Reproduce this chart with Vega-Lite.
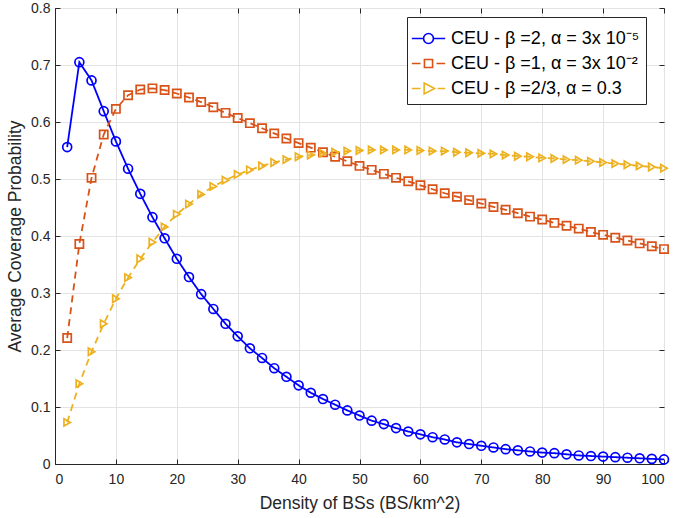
{
 "$schema": "https://vega.github.io/schema/vega-lite/v6.json",
 "width": 609,
 "height": 456,
 "autosize": {"type": "none"},
 "padding": {"left": 55, "top": 8, "right": 10, "bottom": 54},
 "background": "white",
 "config": {
  "view": {"stroke": "#262626", "strokeWidth": 1},
  "font": "Liberation Sans",
  "axis": {"labelFont": "Liberation Sans", "labelFontSize": 14, "labelColor": "#262626", "titleFont": "Liberation Sans", "titleFontSize": 17.5, "titleFontWeight": "normal", "titleColor": "#262626", "domainColor": "#262626", "tickColor": "#262626", "gridColor": "#e3e3e3", "tickSize": -5},
  "legend": {"fillColor": "white", "strokeColor": "#262626", "padding": 6, "labelFontSize": 18, "labelFont": "Liberation Sans", "labelColor": "black", "labelLimit": 400, "symbolSize": 841, "symbolStrokeWidth": 1.6, "labelOffset": 7, "rowPadding": 0}
 },
 "datasets": {
  "d": [
   {"s":"CEU - β =2, α = 3x 10⁻⁵","x":2,"y":0.556},{"s":"CEU - β =2, α = 3x 10⁻⁵","x":4,"y":0.705},{"s":"CEU - β =2, α = 3x 10⁻⁵","x":6,"y":0.673},{"s":"CEU - β =2, α = 3x 10⁻⁵","x":8,"y":0.619},{"s":"CEU - β =2, α = 3x 10⁻⁵","x":10,"y":0.566},
   {"s":"CEU - β =2, α = 3x 10⁻⁵","x":12,"y":0.518},{"s":"CEU - β =2, α = 3x 10⁻⁵","x":14,"y":0.474},{"s":"CEU - β =2, α = 3x 10⁻⁵","x":16,"y":0.433},{"s":"CEU - β =2, α = 3x 10⁻⁵","x":18,"y":0.396},{"s":"CEU - β =2, α = 3x 10⁻⁵","x":20,"y":0.360},
   {"s":"CEU - β =2, α = 3x 10⁻⁵","x":22,"y":0.328},{"s":"CEU - β =2, α = 3x 10⁻⁵","x":24,"y":0.298},{"s":"CEU - β =2, α = 3x 10⁻⁵","x":26,"y":0.272},{"s":"CEU - β =2, α = 3x 10⁻⁵","x":28,"y":0.246},{"s":"CEU - β =2, α = 3x 10⁻⁵","x":30,"y":0.224},
   {"s":"CEU - β =2, α = 3x 10⁻⁵","x":32,"y":0.203},{"s":"CEU - β =2, α = 3x 10⁻⁵","x":34,"y":0.186},{"s":"CEU - β =2, α = 3x 10⁻⁵","x":36,"y":0.168},{"s":"CEU - β =2, α = 3x 10⁻⁵","x":38,"y":0.153},{"s":"CEU - β =2, α = 3x 10⁻⁵","x":40,"y":0.138},
   {"s":"CEU - β =2, α = 3x 10⁻⁵","x":42,"y":0.125},{"s":"CEU - β =2, α = 3x 10⁻⁵","x":44,"y":0.114},{"s":"CEU - β =2, α = 3x 10⁻⁵","x":46,"y":0.104},{"s":"CEU - β =2, α = 3x 10⁻⁵","x":48,"y":0.094},{"s":"CEU - β =2, α = 3x 10⁻⁵","x":50,"y":0.085},
   {"s":"CEU - β =2, α = 3x 10⁻⁵","x":52,"y":0.076},{"s":"CEU - β =2, α = 3x 10⁻⁵","x":54,"y":0.070},{"s":"CEU - β =2, α = 3x 10⁻⁵","x":56,"y":0.063},{"s":"CEU - β =2, α = 3x 10⁻⁵","x":58,"y":0.057},{"s":"CEU - β =2, α = 3x 10⁻⁵","x":60,"y":0.052},
   {"s":"CEU - β =2, α = 3x 10⁻⁵","x":62,"y":0.047},{"s":"CEU - β =2, α = 3x 10⁻⁵","x":64,"y":0.043},{"s":"CEU - β =2, α = 3x 10⁻⁵","x":66,"y":0.038},{"s":"CEU - β =2, α = 3x 10⁻⁵","x":68,"y":0.035},{"s":"CEU - β =2, α = 3x 10⁻⁵","x":70,"y":0.032},
   {"s":"CEU - β =2, α = 3x 10⁻⁵","x":72,"y":0.029},{"s":"CEU - β =2, α = 3x 10⁻⁵","x":74,"y":0.026},{"s":"CEU - β =2, α = 3x 10⁻⁵","x":76,"y":0.024},{"s":"CEU - β =2, α = 3x 10⁻⁵","x":78,"y":0.022},{"s":"CEU - β =2, α = 3x 10⁻⁵","x":80,"y":0.020},
   {"s":"CEU - β =2, α = 3x 10⁻⁵","x":82,"y":0.019},{"s":"CEU - β =2, α = 3x 10⁻⁵","x":84,"y":0.017},{"s":"CEU - β =2, α = 3x 10⁻⁵","x":86,"y":0.015},{"s":"CEU - β =2, α = 3x 10⁻⁵","x":88,"y":0.014},{"s":"CEU - β =2, α = 3x 10⁻⁵","x":90,"y":0.013},
   {"s":"CEU - β =2, α = 3x 10⁻⁵","x":92,"y":0.012},{"s":"CEU - β =2, α = 3x 10⁻⁵","x":94,"y":0.011},{"s":"CEU - β =2, α = 3x 10⁻⁵","x":96,"y":0.010},{"s":"CEU - β =2, α = 3x 10⁻⁵","x":98,"y":0.009},{"s":"CEU - β =2, α = 3x 10⁻⁵","x":100,"y":0.008},
   {"s":"CEU - β =1, α = 3x 10⁻²","x":2,"y":0.221},{"s":"CEU - β =1, α = 3x 10⁻²","x":4,"y":0.386},{"s":"CEU - β =1, α = 3x 10⁻²","x":6,"y":0.502},{"s":"CEU - β =1, α = 3x 10⁻²","x":8,"y":0.578},{"s":"CEU - β =1, α = 3x 10⁻²","x":10,"y":0.623},
   {"s":"CEU - β =1, α = 3x 10⁻²","x":12,"y":0.647},{"s":"CEU - β =1, α = 3x 10⁻²","x":14,"y":0.657},{"s":"CEU - β =1, α = 3x 10⁻²","x":16,"y":0.659},{"s":"CEU - β =1, α = 3x 10⁻²","x":18,"y":0.656},{"s":"CEU - β =1, α = 3x 10⁻²","x":20,"y":0.650},
   {"s":"CEU - β =1, α = 3x 10⁻²","x":22,"y":0.643},{"s":"CEU - β =1, α = 3x 10⁻²","x":24,"y":0.635},{"s":"CEU - β =1, α = 3x 10⁻²","x":26,"y":0.626},{"s":"CEU - β =1, α = 3x 10⁻²","x":28,"y":0.616},{"s":"CEU - β =1, α = 3x 10⁻²","x":30,"y":0.607},
   {"s":"CEU - β =1, α = 3x 10⁻²","x":32,"y":0.598},{"s":"CEU - β =1, α = 3x 10⁻²","x":34,"y":0.589},{"s":"CEU - β =1, α = 3x 10⁻²","x":36,"y":0.580},{"s":"CEU - β =1, α = 3x 10⁻²","x":38,"y":0.571},{"s":"CEU - β =1, α = 3x 10⁻²","x":40,"y":0.563},
   {"s":"CEU - β =1, α = 3x 10⁻²","x":42,"y":0.555},{"s":"CEU - β =1, α = 3x 10⁻²","x":44,"y":0.547},{"s":"CEU - β =1, α = 3x 10⁻²","x":46,"y":0.539},{"s":"CEU - β =1, α = 3x 10⁻²","x":48,"y":0.531},{"s":"CEU - β =1, α = 3x 10⁻²","x":50,"y":0.523},
   {"s":"CEU - β =1, α = 3x 10⁻²","x":52,"y":0.516},{"s":"CEU - β =1, α = 3x 10⁻²","x":54,"y":0.509},{"s":"CEU - β =1, α = 3x 10⁻²","x":56,"y":0.502},{"s":"CEU - β =1, α = 3x 10⁻²","x":58,"y":0.496},{"s":"CEU - β =1, α = 3x 10⁻²","x":60,"y":0.489},
   {"s":"CEU - β =1, α = 3x 10⁻²","x":62,"y":0.482},{"s":"CEU - β =1, α = 3x 10⁻²","x":64,"y":0.475},{"s":"CEU - β =1, α = 3x 10⁻²","x":66,"y":0.469},{"s":"CEU - β =1, α = 3x 10⁻²","x":68,"y":0.463},{"s":"CEU - β =1, α = 3x 10⁻²","x":70,"y":0.457},
   {"s":"CEU - β =1, α = 3x 10⁻²","x":72,"y":0.451},{"s":"CEU - β =1, α = 3x 10⁻²","x":74,"y":0.446},{"s":"CEU - β =1, α = 3x 10⁻²","x":76,"y":0.440},{"s":"CEU - β =1, α = 3x 10⁻²","x":78,"y":0.434},{"s":"CEU - β =1, α = 3x 10⁻²","x":80,"y":0.429},
   {"s":"CEU - β =1, α = 3x 10⁻²","x":82,"y":0.423},{"s":"CEU - β =1, α = 3x 10⁻²","x":84,"y":0.418},{"s":"CEU - β =1, α = 3x 10⁻²","x":86,"y":0.413},{"s":"CEU - β =1, α = 3x 10⁻²","x":88,"y":0.407},{"s":"CEU - β =1, α = 3x 10⁻²","x":90,"y":0.402},
   {"s":"CEU - β =1, α = 3x 10⁻²","x":92,"y":0.397},{"s":"CEU - β =1, α = 3x 10⁻²","x":94,"y":0.392},{"s":"CEU - β =1, α = 3x 10⁻²","x":96,"y":0.387},{"s":"CEU - β =1, α = 3x 10⁻²","x":98,"y":0.382},{"s":"CEU - β =1, α = 3x 10⁻²","x":100,"y":0.377},
   {"s":"CEU - β =2/3, α = 0.3","x":2,"y":0.073},{"s":"CEU - β =2/3, α = 0.3","x":4,"y":0.141},{"s":"CEU - β =2/3, α = 0.3","x":6,"y":0.197},{"s":"CEU - β =2/3, α = 0.3","x":8,"y":0.246},{"s":"CEU - β =2/3, α = 0.3","x":10,"y":0.290},
   {"s":"CEU - β =2/3, α = 0.3","x":12,"y":0.327},{"s":"CEU - β =2/3, α = 0.3","x":14,"y":0.360},{"s":"CEU - β =2/3, α = 0.3","x":16,"y":0.389},{"s":"CEU - β =2/3, α = 0.3","x":18,"y":0.416},{"s":"CEU - β =2/3, α = 0.3","x":20,"y":0.438},
   {"s":"CEU - β =2/3, α = 0.3","x":22,"y":0.456},{"s":"CEU - β =2/3, α = 0.3","x":24,"y":0.473},{"s":"CEU - β =2/3, α = 0.3","x":26,"y":0.487},{"s":"CEU - β =2/3, α = 0.3","x":28,"y":0.498},{"s":"CEU - β =2/3, α = 0.3","x":30,"y":0.508},
   {"s":"CEU - β =2/3, α = 0.3","x":32,"y":0.516},{"s":"CEU - β =2/3, α = 0.3","x":34,"y":0.523},{"s":"CEU - β =2/3, α = 0.3","x":36,"y":0.529},{"s":"CEU - β =2/3, α = 0.3","x":38,"y":0.534},{"s":"CEU - β =2/3, α = 0.3","x":40,"y":0.539},
   {"s":"CEU - β =2/3, α = 0.3","x":42,"y":0.542},{"s":"CEU - β =2/3, α = 0.3","x":44,"y":0.545},{"s":"CEU - β =2/3, α = 0.3","x":46,"y":0.547},{"s":"CEU - β =2/3, α = 0.3","x":48,"y":0.549},{"s":"CEU - β =2/3, α = 0.3","x":50,"y":0.550},
   {"s":"CEU - β =2/3, α = 0.3","x":52,"y":0.551},{"s":"CEU - β =2/3, α = 0.3","x":54,"y":0.551},{"s":"CEU - β =2/3, α = 0.3","x":56,"y":0.551},{"s":"CEU - β =2/3, α = 0.3","x":58,"y":0.551},{"s":"CEU - β =2/3, α = 0.3","x":60,"y":0.550},
   {"s":"CEU - β =2/3, α = 0.3","x":62,"y":0.549},{"s":"CEU - β =2/3, α = 0.3","x":64,"y":0.549},{"s":"CEU - β =2/3, α = 0.3","x":66,"y":0.547},{"s":"CEU - β =2/3, α = 0.3","x":68,"y":0.546},{"s":"CEU - β =2/3, α = 0.3","x":70,"y":0.545},
   {"s":"CEU - β =2/3, α = 0.3","x":72,"y":0.544},{"s":"CEU - β =2/3, α = 0.3","x":74,"y":0.542},{"s":"CEU - β =2/3, α = 0.3","x":76,"y":0.540},{"s":"CEU - β =2/3, α = 0.3","x":78,"y":0.539},{"s":"CEU - β =2/3, α = 0.3","x":80,"y":0.537},
   {"s":"CEU - β =2/3, α = 0.3","x":82,"y":0.536},{"s":"CEU - β =2/3, α = 0.3","x":84,"y":0.534},{"s":"CEU - β =2/3, α = 0.3","x":86,"y":0.533},{"s":"CEU - β =2/3, α = 0.3","x":88,"y":0.531},{"s":"CEU - β =2/3, α = 0.3","x":90,"y":0.529},
   {"s":"CEU - β =2/3, α = 0.3","x":92,"y":0.527},{"s":"CEU - β =2/3, α = 0.3","x":94,"y":0.525},{"s":"CEU - β =2/3, α = 0.3","x":96,"y":0.523},{"s":"CEU - β =2/3, α = 0.3","x":98,"y":0.521},{"s":"CEU - β =2/3, α = 0.3","x":100,"y":0.519}
  ]
 },
 "data": {"name": "d"},
 "layer": [
  {
   "mark": {"type": "line", "strokeWidth": 1.8},
   "encoding": {
    "x": {"field": "x", "type": "quantitative", "scale": {"domain": [0, 100], "nice": false}, "axis": {"title": "Density of BSs (BS/km^2)", "values": [0,10,20,30,40,50,60,70,80,90,100], "grid": true, "labelPadding": 13, "titlePadding": 8}},
    "y": {"field": "y", "type": "quantitative", "scale": {"domain": [0, 0.8], "nice": false}, "axis": {"title": "Average Coverage Probability", "values": [0,0.1,0.2,0.3,0.4,0.5,0.6,0.7,0.8], "format": "~g", "grid": true, "labelPadding": 10, "titlePadding": 6}},
    "color": {"field": "s", "type": "nominal", "scale": {"domain": ["CEU - β =2, α = 3x 10⁻⁵", "CEU - β =1, α = 3x 10⁻²", "CEU - β =2/3, α = 0.3"], "range": ["#0000FF", "#D95319", "#EDB120"]}, "legend": null},
    "strokeDash": {"field": "s", "type": "nominal", "scale": {"domain": ["CEU - β =2, α = 3x 10⁻⁵", "CEU - β =1, α = 3x 10⁻²", "CEU - β =2/3, α = 0.3"], "range": [[1, 0], [7, 5], [7, 5]]}, "legend": null}
   }
  },
  {
   "mark": {"type": "point", "filled": false, "strokeWidth": 1.7, "opacity": 1},
   "encoding": {
    "x": {"field": "x", "type": "quantitative", "scale": {"domain": [0, 100], "nice": false}, "axis": null},
    "y": {"field": "y", "type": "quantitative", "scale": {"domain": [0, 0.8], "nice": false}, "axis": null},
    "color": {"field": "s", "type": "nominal", "scale": {"domain": ["CEU - β =2, α = 3x 10⁻⁵", "CEU - β =1, α = 3x 10⁻²", "CEU - β =2/3, α = 0.3"], "range": ["#0000FF", "#D95319", "#EDB120"]}, "legend": null},
    "shape": {"field": "s", "type": "nominal", "scale": {"domain": ["CEU - β =2, α = 3x 10⁻⁵", "CEU - β =1, α = 3x 10⁻²", "CEU - β =2/3, α = 0.3"], "range": ["circle", "square", "triangle-right"]}, "legend": null},
    "size": {"field": "s", "type": "ordinal", "scale": {"domain": ["CEU - β =2, α = 3x 10⁻⁵", "CEU - β =1, α = 3x 10⁻²", "CEU - β =2/3, α = 0.3"], "range": [80, 55, 150]}, "legend": null}
   }
  },
  {
   "transform": [{"filter": "datum.x < 0"}],
   "mark": {"type": "point", "filled": false, "strokeWidth": 1.6, "opacity": 1},
   "encoding": {
    "x": {"field": "x", "type": "quantitative", "scale": {"domain": [0, 100], "nice": false}, "axis": {"orient": "top", "labels": false, "grid": false, "domain": false, "title": null, "values": [0,10,20,30,40,50,60,70,80,90,100]}},
    "y": {"field": "y", "type": "quantitative", "scale": {"domain": [0, 0.8], "nice": false}, "axis": {"orient": "right", "labels": false, "grid": false, "domain": false, "title": null, "values": [0,0.1,0.2,0.3,0.4,0.5,0.6,0.7,0.8]}},
    "color": {"field": "s", "type": "nominal", "scale": {"domain": ["CEU - β =2, α = 3x 10⁻⁵", "CEU - β =1, α = 3x 10⁻²", "CEU - β =2/3, α = 0.3"], "range": ["#0000FF", "#D95319", "#EDB120"]}, "legend": {"title": null, "orient": "none", "legendX": 352, "legendY": 9}},
    "shape": {"field": "s", "type": "nominal", "scale": {"domain": ["CEU - β =2, α = 3x 10⁻⁵", "CEU - β =1, α = 3x 10⁻²", "CEU - β =2/3, α = 0.3"], "range": ["M-1.15,0H-0.34M0.34,0H1.15M0.34,0A0.34,0.34 0 1,1 -0.34,0A0.34,0.34 0 1,1 0.34,0", "M-1.15,0H-0.55M-0.28,-0.28H0.28V0.28H-0.28ZM0.55,0H1.15", "M-1.15,0H-0.55M-0.3,-0.38L0.42,0L-0.3,0.38ZM0.62,0H1.15"]}, "legend": {"title": null, "orient": "none", "legendX": 352, "legendY": 9}}
   }
  }
 ],
 "resolve": {"scale": {"x": "independent", "y": "independent", "color": "independent", "shape": "independent", "strokeDash": "independent", "size": "independent"}}
}
